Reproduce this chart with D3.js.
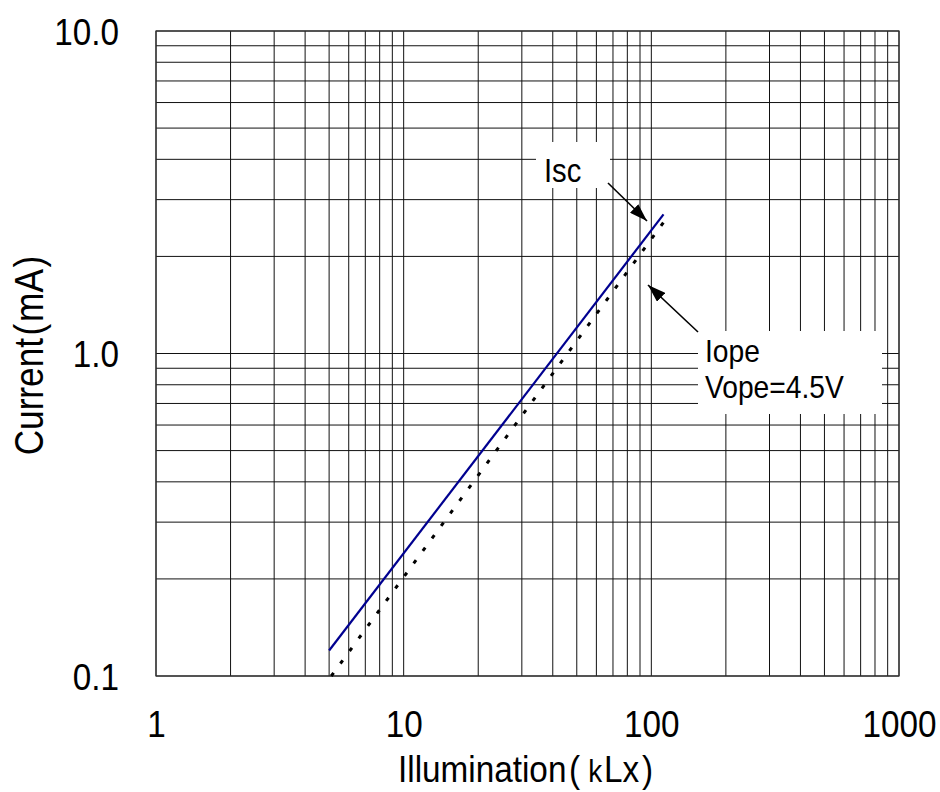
<!DOCTYPE html>
<html>
<head>
<meta charset="utf-8">
<script src="https://cdn.jsdelivr.net/npm/d3@7/dist/d3.min.js"></script>
<style>
  html, body { margin: 0; padding: 0; background: #fff; }
  svg { display: block; }
  text { font-family: "Liberation Sans", Arial, sans-serif; fill: #000; }
</style>
</head>
<body>
<svg id="chart" width="940" height="792"></svg>
<script>
// ---- data ----
const xTickValues = [1, 10, 100, 1000];
const xTickLabels = ["1", "10", "100", "1000"];
const yTickValues = [0.1, 1, 10];
const yTickLabels = ["0.1", "1.0", "10.0"];
const iscLux = [5, 112];
const iscmA = [0.12, 2.7];
const iopeLux = [5.1, 112];
const iopemA = [0.1, 2.55];

// ---- layout ----
const L = 156, R = 899, T = 31, B = 676;
const SX = 0.88;
const svg = d3.select("#chart");

const x = d3.scaleLog().domain([1, 1000]).range([L, R]);
const y = d3.scaleLog().domain([0.1, 10]).range([B, T]);

// grid values (1..9 per decade)
const xGrid = [], yGrid = [];
[1, 10, 100].forEach(d => { for (let k = 1; k <= 9; k++) xGrid.push(d * k); });
xGrid.push(1000);
[0.1, 1].forEach(d => { for (let k = 1; k <= 9; k++) yGrid.push(+(d * k).toFixed(3)); });
yGrid.push(10);

const grid = svg.append("g");
grid.selectAll("line.vx").data(xGrid).join("line")
  .attr("x1", d => x(d)).attr("x2", d => x(d))
  .attr("y1", T).attr("y2", B)
  .attr("stroke", "#111").attr("stroke-width", 1);
grid.selectAll("line.hy").data(yGrid).join("line")
  .attr("y1", d => y(d)).attr("y2", d => y(d))
  .attr("x1", L).attr("x2", R)
  .attr("stroke", "#111").attr("stroke-width", 1);
svg.append("rect").attr("x", L).attr("y", T).attr("width", R - L).attr("height", B - T)
  .attr("fill", "none").attr("stroke", "#333").attr("stroke-width", 1.2);

// white label backgrounds
svg.append("rect").attr("x", 536).attr("y", 142).attr("width", 74).attr("height", 46).attr("fill", "#fff");
svg.append("rect").attr("x", 698).attr("y", 331).attr("width", 184).attr("height", 83).attr("fill", "#fff");

// axes labels via scales
const xAxis = d3.axisBottom(x).tickValues(xTickValues).tickFormat((d, i) => xTickLabels[i]).tickSize(0).tickPadding(0);
const gx = svg.append("g").attr("transform", `translate(0,${B})`).call(xAxis);
gx.select(".domain").remove();
gx.selectAll("text").attr("font-size", 37).attr("dy", null).attr("y", 0)
  .attr("transform", `translate(0,61) scale(0.9,1)`)
  .style("font-family", "'Liberation Sans', Arial, sans-serif").attr("fill", "#000");

const yAxis = d3.axisLeft(y).tickValues(yTickValues).tickFormat((d, i) => yTickLabels[i]).tickSize(0).tickPadding(0);
const gy = svg.append("g").attr("transform", `translate(${L - 37},0)`).call(yAxis);
gy.select(".domain").remove();
gy.selectAll("text").attr("font-size", 37).attr("dy", "0.36em").attr("x", 0)
  .attr("transform", `scale(0.9,1)`)
  .style("font-family", "'Liberation Sans', Arial, sans-serif").attr("fill", "#000");

// series
const line = d3.line().x(d => x(d[0])).y(d => y(d[1]));
svg.append("path").datum(iscLux.map((v, i) => [v, iscmA[i]]))
  .attr("d", line).attr("fill", "none").attr("stroke", "#000090").attr("stroke-width", 2.2);
svg.append("path").datum(iopeLux.map((v, i) => [v, iopemA[i]]))
  .attr("d", line).attr("fill", "none").attr("stroke", "#000").attr("stroke-width", 3)
  .attr("stroke-dasharray", "4 11.5");

// arrows
const defs = svg.append("defs");
defs.append("marker").attr("id", "ah").attr("markerUnits", "userSpaceOnUse")
  .attr("viewBox", "0 0 18 12").attr("refX", 18).attr("refY", 6)
  .attr("markerWidth", 18).attr("markerHeight", 12).attr("orient", "auto")
  .append("path").attr("d", "M0,0 L18,6 L0,12 Z").attr("fill", "#000");
svg.append("line").attr("x1", 608).attr("y1", 183).attr("x2", 647).attr("y2", 221)
  .attr("stroke", "#000").attr("stroke-width", 1.6).attr("marker-end", "url(#ah)");
svg.append("line").attr("x1", 698).attr("y1", 332).attr("x2", 648).attr("y2", 285)
  .attr("stroke", "#000").attr("stroke-width", 1.6).attr("marker-end", "url(#ah)");

// condensed text helper
function ctext(px, py, size, anchor, parts, rot, sx) {
  const t = svg.append("text")
    .attr("transform", `translate(${px},${py})${rot ? " rotate(-90)" : ""} scale(${sx || SX},1)`)
    .attr("font-size", size).attr("text-anchor", anchor || "start");
  parts.forEach(p => {
    const s = t.append("tspan").text(p.t);
    if (p.dx) s.attr("dx", p.dx);
    if (p.fs) s.attr("font-size", p.fs);
  });
  return t;
}

// annotation text
ctext(544, 182, 34, "start", [{ t: "Isc" }], false, 0.86);
ctext(705, 362, 31, "start", [{ t: "Iope" }], false, 0.91);
ctext(705, 398, 31, "start", [{ t: "Vope=4.5V" }], false, 0.91);

// axis titles
ctext((L + R) / 2 - 2, 782, 37, "middle", [
  { t: "Illumination" }, { t: "(", dx: 3 }, { t: "k", dx: 9, fs: 31 }, { t: "Lx", dx: 2 }, { t: ")", dx: 3 }
], false, 0.9);
ctext(43, (T + B) / 2 + 2, 40, "middle", [
  { t: "Current" }, { t: "(", dx: 3 }, { t: "mA", dx: 2 }, { t: ")", dx: 2 }
], true, 0.88);
</script>
</body>
</html>
